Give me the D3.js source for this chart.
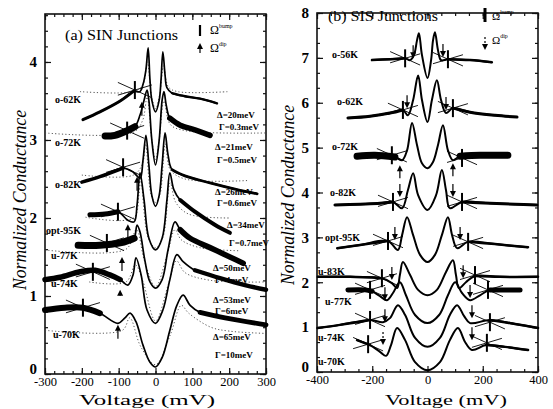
<!DOCTYPE html>
<html>
<head>
<meta charset="utf-8">
<script src="https://cdn.jsdelivr.net/npm/d3@7"></script>
<style>
  body { margin: 0; background: #fff; }
  svg text { font-family: "Liberation Serif", "DejaVu Serif", serif; fill: #000; }
</style>
</head>
<body>
<svg id="chart" width="553" height="409"></svg>
<script>
"use strict";

// ---------- panel (a) SIN junctions: [voltage mV, normalized conductance]
var sinLabels = ["o-62K", "o-72K", "o-82K", "opt-95K", "u-77K", "u-74K", "u-70K"];
var sinO62 = [[-197,3.26],[-151,3.36],[-96,3.50],[-61,3.62],[-42,3.62],[-34,3.71],[-26,3.90],[-20,4.18],[-15,3.77],[-10,3.51],[0,3.36],[10,3.51],[15,3.77],[20,4.13],[26,3.83],[31,3.67],[45,3.60],[80,3.56],[121,3.53],[167,3.47]];
var sinO72 = [[-137,3.05],[-110,3.06],[-77,3.12],[-56,3.17],[-42,3.32],[-31,3.51],[-23,3.64],[-18,3.51],[-10,3.00],[0,2.68],[10,3.00],[18,3.51],[23,3.62],[29,3.45],[39,3.28],[67,3.19],[107,3.13],[148,3.06]];
var sinO82 = [[-200,2.46],[-151,2.53],[-88,2.64],[-61,2.59],[-42,2.51],[-34,2.74],[-26,3.06],[-18,2.68],[-10,2.29],[0,2.15],[10,2.29],[18,2.68],[26,3.09],[34,2.81],[45,2.62],[80,2.54],[148,2.45],[216,2.37],[276,2.31]];
var sinOpt95 = [[-178,2.04],[-137,2.05],[-102,2.08],[-75,1.97],[-58,1.95],[-50,2.17],[-42,2.58],[-31,2.23],[-18,1.74],[0,1.59],[18,1.74],[31,2.23],[39,2.58],[50,2.36],[67,2.23],[107,2.08],[162,1.91],[202,1.81]];
var sinU77 = [[-210,1.65],[-151,1.65],[-96,1.68],[-69,1.72],[-58,1.74],[-50,1.91],[-42,1.82],[-29,1.46],[-15,1.18],[0,1.10],[18,1.21],[34,1.59],[53,1.95],[67,1.85],[94,1.74],[148,1.62],[202,1.50],[238,1.42]];
var sinU74 = [[-300,1.21],[-259,1.24],[-205,1.31],[-164,1.33],[-124,1.27],[-96,1.21],[-75,1.14],[-61,1.27],[-53,1.49],[-39,1.27],[-23,0.82],[0,0.65],[20,0.82],[39,1.21],[58,1.53],[75,1.44],[107,1.33],[175,1.23],[243,1.14],[300,1.08]];
var sinU70 = [[-300,0.82],[-246,0.85],[-197,0.85],[-151,0.78],[-102,0.65],[-83,0.72],[-69,0.78],[-53,0.67],[-34,0.37],[-15,0.15],[0,0.09],[18,0.21],[39,0.56],[58,0.88],[75,1.01],[94,0.88],[121,0.79],[189,0.72],[300,0.63]];
var sinCurves = [sinO62, sinO72, sinO82, sinOpt95, sinU77, sinU74, sinU70];

// dotted d-wave fits
var sinFitO62 = [[-205,3.62],[-60,3.62],[-35,3.70],[-22,4.00],[-12,3.60],[0,3.40],[12,3.60],[22,3.95],[35,3.68],[60,3.62],[200,3.62]];
var sinFitO72 = [[-300,3.09],[-60,3.10],[-35,3.25],[-23,3.55],[-10,3.00],[0,2.75],[10,3.00],[23,3.50],[40,3.20],[80,3.12],[300,3.09]];
var sinFitO82 = [[-200,2.55],[-60,2.55],[-35,2.70],[-27,2.95],[-12,2.30],[0,2.20],[12,2.30],[27,2.95],[40,2.62],[80,2.50],[250,2.48]];
var sinFitOpt95 = [[-190,2.01],[-60,2.00],[-45,2.30],[-40,2.50],[-20,1.75],[0,1.62],[20,1.75],[40,2.45],[55,2.20],[90,2.05],[200,2.00]];
var sinFitU77 = [[-300,1.59],[-80,1.60],[-52,1.85],[-30,1.45],[0,1.12],[30,1.50],[53,1.85],[70,1.72],[120,1.62],[230,1.58]];
var sinFitU74 = [[-180,1.18],[-80,1.18],[-55,1.40],[-35,1.20],[0,0.68],[35,1.15],[57,1.45],[80,1.30],[150,1.20],[300,1.18]];
var sinFitU70 = [[-300,0.56],[-90,0.56],[-70,0.72],[-40,0.35],[0,0.12],[40,0.50],[70,0.88],[90,0.78],[150,0.60],[200,0.55],[300,0.52]];
var sinFits = [sinFitO62, sinFitO72, sinFitO82, sinFitOpt95, sinFitU77, sinFitU74, sinFitU70];

// noisy (thick) stretches of each trace: [from mV, to mV]
var sinBandsL = [[-197,-61],[-137,-56],[-200,-88],[-178,-102],[-210,-58],[-300,-96],[-300,-151]];
var sinBandsR = [[45,167],[39,148],[45,276],[67,202],[67,238],[107,300],[121,300]];

// Omega^bump crosses and Omega^dip arrows
var sinBumpV = [-56, -77, -88, -102, -132, -170, -197];
var sinBumpG = [3.64, 3.12, 2.65, 2.08, 1.68, 1.31, 0.85];
var sinDipV = [-37, -50, -75, -91, -96, -102];
var sinDipG = [3.49, 2.53, 1.92, 1.50, 1.08, 0.63];

var sinDelta = ["Δ=20meV", "Δ=21meV", "Δ=26meV", "Δ=34meV", "Δ=50meV", "Δ=53meV", "Δ=65meV"];
var sinGamma = ["Γ=0.3meV", "Γ=0.5meV", "Γ=0.6meV", "Γ=0.7meV", "Γ=4meV", "Γ=6meV", "Γ=10meV"];

var xTicksA = [-300, -200, -100, 0, 100, 200, 300];
var yTicksA = [0, 1, 2, 3, 4];

// ---------- panel (b) SIS junctions
var sisLabels = ["o-56K", "o-62K", "o-72K", "o-82K", "opt-95K", "u-83K", "u-77K", "u-74K", "u-70K"];
var sisO56 = [[-201,6.95],[-136,6.97],[-81,6.99],[-63,6.95],[-49,7.06],[-38,7.39],[-31,7.55],[-20,7.06],[0,6.55],[13,6.95],[20,7.39],[27,7.57],[38,7.17],[49,6.95],[74,6.97],[154,6.95],[233,6.90]];
var sisO62 = [[-288,5.66],[-208,5.70],[-136,5.77],[-89,5.84],[-71,5.72],[-52,6.06],[-34,6.61],[-20,6.06],[0,5.57],[16,6.06],[34,6.50],[49,6.06],[67,5.77],[92,5.88],[154,5.79],[244,5.72],[324,5.68]];
var sisO72 = [[-255,4.81],[-190,4.83],[-118,4.79],[-92,4.72],[-74,4.94],[-56,5.55],[-38,5.06],[-20,4.65],[0,4.54],[20,4.68],[38,5.06],[56,5.50],[74,4.94],[92,4.72],[118,4.81],[190,4.83],[291,4.83]];
var sisO82 = [[-335,3.72],[-244,3.74],[-172,3.76],[-125,3.79],[-92,3.65],[-71,4.05],[-52,4.43],[-34,3.94],[0,3.61],[31,3.94],[52,4.50],[67,4.05],[81,3.65],[125,3.79],[226,3.76],[317,3.74],[396,3.72]];
var sisOpt95 = [[-327,2.76],[-244,2.83],[-143,2.92],[-107,2.72],[-92,3.05],[-74,3.45],[-52,3.05],[-27,2.61],[0,2.45],[27,2.61],[52,3.05],[74,3.45],[89,3.05],[107,2.76],[147,2.90],[244,2.85],[364,2.78]];
var sisU83 = [[-397,2.12],[-281,2.12],[-165,2.09],[-129,1.98],[-110,1.87],[-100,2.16],[-89,2.45],[-63,2.16],[-34,1.83],[0,1.71],[34,1.83],[67,2.23],[92,2.49],[103,2.16],[114,1.87],[139,2.00],[172,2.14],[262,2.12],[400,2.12]];
var sisU77 = [[-288,1.83],[-226,1.83],[-201,1.80],[-172,1.69],[-147,1.60],[-125,1.76],[-100,2.00],[-78,1.71],[-45,1.27],[0,1.09],[42,1.27],[74,1.71],[100,2.00],[125,1.76],[154,1.60],[190,1.71],[226,1.83],[335,1.83]];
var sisU74 = [[-398,0.98],[-317,1.05],[-208,1.16],[-161,1.11],[-136,1.20],[-107,1.49],[-81,1.27],[-45,0.76],[0,0.56],[45,0.76],[81,1.27],[107,1.49],[132,1.25],[154,1.09],[226,1.16],[317,1.07],[400,0.98]];
var sisU70 = [[-255,0.71],[-208,0.60],[-172,0.45],[-150,0.36],[-132,0.60],[-110,0.98],[-81,0.71],[-45,0.22],[0,0.04],[45,0.22],[81,0.71],[110,0.98],[136,0.67],[161,0.49],[212,0.60],[281,0.56],[364,0.49]];
var sisCurves = [sisO56, sisO62, sisO72, sisO82, sisOpt95, sisU83, sisU77, sisU74, sisU70];

var sisBandsL = [[-201,-81],[-288,-89],[-255,-118],[-335,-125],[-327,-143],[-397,-165],[-288,-201],[-398,-208],[-255,-208]];
var sisBandsR = [[74,233],[92,324],[118,291],[125,396],[147,364],[172,400],[226,335],[226,400],[212,364]];

var sisBumpLV = [-81, -89, -129, -125, -143, -165, -208, -208, -215];
var sisBumpLG = [6.99, 5.84, 4.83, 3.79, 2.92, 2.09, 1.83, 1.16, 0.62];
var sisBumpRV = [74, 92, 125, 125, 147, 172, 219, 226, 215];
var sisBumpRG = [6.97, 5.88, 4.77, 3.79, 2.90, 2.16, 1.83, 1.11, 0.65];
var sisDipLV = [-52, -74, -100, -100, -118, -129, -154, -154, -161];
var sisDipLG = [6.99, 5.88, 4.61, 3.90, 2.94, 2.05, 1.60, 1.11, 0.60];
var sisDipRV = [56, 67, 92, 92, 118, 129, 154, 161, 161];
var sisDipRG = [7.02, 5.84, 4.65, 3.90, 2.94, 2.09, 1.65, 1.20, 0.71];
var sisDipDir = [1, 1, -1, 1, 1, 1, 1, 1, 1];

var xTicksB = [-400, -200, 0, 200, 400];
var yTicksB = [0, 1, 2, 3, 4, 5, 6, 7, 8];

var svg = d3.select("#chart");

function makeLine(x, y) {
  return d3.line()
    .x(function(d) { return x(d[0]); })
    .y(function(d) { return y(d[1]); })
    .curve(d3.curveCatmullRom.alpha(0.5));
}

function drawFrame(g, x, y, xMajor, xMinor, yMajor, yMinor) {
  var x0 = x.range()[0], x1 = x.range()[1];
  var y0 = y.range()[0], y1 = y.range()[1];
  var noDomain = function(s) { s.select(".domain").remove(); };

  g.append("g").attr("transform", "translate(0," + y0 + ")")
    .call(d3.axisBottom(x).tickValues(xMinor).tickSize(-3).tickFormat("")).call(noDomain);
  g.append("g").attr("transform", "translate(0," + y1 + ")")
    .call(d3.axisTop(x).tickValues(xMinor).tickSize(-3).tickFormat("")).call(noDomain);
  g.append("g").attr("transform", "translate(" + x0 + ",0)")
    .call(d3.axisLeft(y).tickValues(yMinor).tickSize(-3).tickFormat("")).call(noDomain);
  g.append("g").attr("transform", "translate(" + x1 + ",0)")
    .call(d3.axisRight(y).tickValues(yMinor).tickSize(-3).tickFormat("")).call(noDomain);

  var bx = g.append("g").attr("transform", "translate(0," + y0 + ")")
    .call(d3.axisBottom(x).tickValues(xMajor).tickSize(-6).tickPadding(3)
      .tickFormat(function(d) { return String(d); }))
    .call(noDomain);
  bx.selectAll("text").attr("font-size", 12.5).attr("font-family", "Liberation Serif");
  g.append("g").attr("transform", "translate(0," + y1 + ")")
    .call(d3.axisTop(x).tickValues(xMajor).tickSize(-6).tickFormat("")).call(noDomain);
  var ly = g.append("g").attr("transform", "translate(" + x0 + ",0)")
    .call(d3.axisLeft(y).tickValues(yMajor).tickSize(-6).tickPadding(8)
      .tickFormat(function(d) { return String(d); }))
    .call(noDomain);
  ly.selectAll("text").attr("font-size", 15).attr("font-weight", "bold").attr("font-family", "Liberation Serif")
    .attr("dy", function(d) { return d === 0 ? "-0.05em" : "0.32em"; });
  g.append("g").attr("transform", "translate(" + x1 + ",0)")
    .call(d3.axisRight(y).tickValues(yMajor).tickSize(-6).tickFormat("")).call(noDomain);

  g.selectAll(".tick line").attr("stroke", "#111").attr("stroke-width", 1.2);

  g.append("rect")
    .attr("x", x0).attr("y", y1)
    .attr("width", x1 - x0).attr("height", y0 - y1)
    .attr("fill", "none").attr("stroke", "#111").attr("stroke-width", 1.6);
}

function drawCross(g, px, py, len) {
  g.append("line").attr("x1", px).attr("x2", px).attr("y1", py - 9).attr("y2", py + 9)
    .attr("stroke", "#000").attr("stroke-width", 2);
  g.append("line").attr("x1", px - len).attr("x2", px + len).attr("y1", py - len * 0.45).attr("y2", py + len * 0.45)
    .attr("stroke", "#000").attr("stroke-width", 0.9);
  g.append("line").attr("x1", px - len).attr("x2", px + len).attr("y1", py + len * 0.3).attr("y2", py - len * 0.3)
    .attr("stroke", "#000").attr("stroke-width", 0.9);
}

function drawArrow(g, px, py, dir, len, dashed) {
  // dir 1: points down to (px,py), dir -1: points up to (px,py)
  var tail = py - dir * len;
  g.append("line").attr("x1", px).attr("x2", px).attr("y1", tail).attr("y2", py - dir * 4)
    .attr("stroke", "#000").attr("stroke-width", 1.2)
    .attr("stroke-dasharray", dashed ? "2,2" : null);
  g.append("path")
    .attr("d", "M" + px + "," + py + "L" + (px - 3) + "," + (py - dir * 6) + "L" + (px + 3) + "," + (py - dir * 6) + "Z")
    .attr("fill", "#000");
}

function drawBands(g, curve, band, x, y, width) {
  var pts = curve.filter(function(d) { return d[0] >= band[0] && d[0] <= band[1]; });
  g.append("path").datum(pts)
    .attr("d", makeLine(x, y))
    .attr("fill", "none").attr("stroke", "#000")
    .attr("stroke-width", width).attr("stroke-linecap", "round");
}

function omegaLabel(g, px, py, size, sup) {
  var t = g.append("text").attr("x", px).attr("y", py).attr("font-size", size).text("Ω");
  t.append("tspan").attr("font-size", 6).attr("dy", -6).text(sup);
}

// ================= panel (a)
(function() {
  var x = d3.scaleLinear().domain([-300, 300]).range([45, 266]);
  var y = d3.scaleLinear().domain([0, 4.615]).range([374, 14]);
  var g = svg.append("g");
  var path = makeLine(x, y);

  drawFrame(g, x, y, xTicksA, d3.range(-300, 301, 25), yTicksA, d3.range(0, 4.61, 0.2));

  g.selectAll(".fit").data(sinFits).enter().append("path")
    .attr("class", "fit")
    .attr("d", path)
    .attr("fill", "none").attr("stroke", "#444")
    .attr("stroke-width", 0.9).attr("stroke-dasharray", "1.2,2.2");

  g.selectAll(".trace").data(sinCurves).enter().append("path")
    .attr("class", "trace")
    .attr("d", path)
    .attr("fill", "none").attr("stroke", "#000")
    .attr("stroke-width", 1.7).attr("stroke-linejoin", "round");

  var bandW = [3, 7, 3.5, 5, 7, 5.5, 6];
  sinCurves.forEach(function(c, i) {
    drawBands(g, c, sinBandsL[i], x, y, bandW[i]);
    drawBands(g, c, sinBandsR[i], x, y, bandW[i] * 0.8);
  });

  sinBumpV.forEach(function(v, i) {
    drawCross(g, x(v), y(sinBumpG[i]), 17);
  });
  sinDipV.forEach(function(v, i) {
    drawArrow(g, x(v), y(sinDipG[i]), -1, i === 4 ? 6 : 14, false);
  });

  var labY = [103, 146, 188, 234, 259, 287, 338];
  var labX = [55, 55, 55, 46, 51, 51, 53];
  sinLabels.forEach(function(t, i) {
    g.append("text").attr("x", labX[i]).attr("y", labY[i])
      .attr("font-size", 10).attr("font-weight", "bold").text(t);
  });

  var dY = [118, 150, 195, 228, 271, 303, 340];
  var gY = [130, 163, 206, 246, 283, 314, 358];
  var dX = [217, 215, 215, 227, 213, 213, 213];
  sinDelta.forEach(function(t, i) {
    g.append("text").attr("x", dX[i]).attr("y", dY[i]).attr("font-size", 9).attr("font-weight", "bold").text(t);
    g.append("text").attr("x", dX[i] + 2).attr("y", gY[i]).attr("font-size", 9).attr("font-weight", "bold").text(sinGamma[i]);
  });

  g.append("text").attr("x", 65).attr("y", 40).attr("font-size", 14)
    .attr("textLength", 113).attr("lengthAdjust", "spacingAndGlyphs")
    .text("(a)  SIN Junctions");

  // legend
  g.append("line").attr("x1", 200).attr("x2", 200).attr("y1", 25).attr("y2", 36)
    .attr("stroke", "#000").attr("stroke-width", 2.2);
  omegaLabel(g, 210, 34, 12, "bump");
  drawArrow(g, 200, 43, -1, 10, false);
  omegaLabel(g, 210, 52, 12, "dip");

  g.append("text").attr("transform", "translate(26,200) rotate(-90)")
    .attr("text-anchor", "middle").attr("font-size", 18).attr("font-style", "italic")
    .attr("textLength", 180).attr("lengthAdjust", "spacingAndGlyphs")
    .text("Normalized Conductance");
  g.append("text").attr("x", 147).attr("y", 405).attr("text-anchor", "middle")
    .attr("font-size", 15).attr("textLength", 136).attr("lengthAdjust", "spacingAndGlyphs")
    .text("Voltage (mV)");
})();

// ================= panel (b)
(function() {
  var x = d3.scaleLinear().domain([-400, 400]).range([317, 538]);
  var y = d3.scaleLinear().domain([0, 8]).range([372, 13]);
  var g = svg.append("g");
  var path = makeLine(x, y);

  drawFrame(g, x, y, xTicksB, d3.range(-400, 401, 50), yTicksB, d3.range(0, 8.01, 1 / 3));

  g.selectAll(".trace").data(sisCurves).enter().append("path")
    .attr("class", "trace")
    .attr("d", path)
    .attr("fill", "none").attr("stroke", "#000")
    .attr("stroke-width", 2).attr("stroke-linejoin", "round");

  var bandW = [2.5, 3, 7, 3, 2.5, 2.5, 5, 2.5, 2.5];
  sisCurves.forEach(function(c, i) {
    drawBands(g, c, sisBandsL[i], x, y, bandW[i]);
    drawBands(g, c, sisBandsR[i], x, y, bandW[i]);
  });

  sisBumpLV.forEach(function(v, i) {
    drawCross(g, x(v), y(sisBumpLG[i]), 15);
    drawCross(g, x(sisBumpRV[i]), y(sisBumpRG[i]), 15);
  });
  sisDipLV.forEach(function(v, i) {
    drawArrow(g, x(v), y(sisDipLG[i]), sisDipDir[i], 13, i === 8);
    drawArrow(g, x(sisDipRV[i]), y(sisDipRG[i]), sisDipDir[i], 13, false);
  });

  var labY = [58, 105, 150, 196, 241, 275, 305, 341, 365];
  var labX = [332, 337, 332, 330, 325, 318, 325, 318, 318];
  sisLabels.forEach(function(t, i) {
    g.append("text").attr("x", labX[i]).attr("y", labY[i])
      .attr("font-size", 10).attr("font-weight", "bold").text(t);
  });

  g.append("text").attr("x", 328).attr("y", 21).attr("font-size", 14)
    .attr("textLength", 110).attr("lengthAdjust", "spacingAndGlyphs")
    .text("(b)  SIS Junctions");

  g.append("line").attr("x1", 485).attr("x2", 485).attr("y1", 8).attr("y2", 22)
    .attr("stroke", "#000").attr("stroke-width", 3);
  omegaLabel(g, 492, 20, 11, "bump");
  drawArrow(g, 485, 50, 1, 13, true);
  omegaLabel(g, 492, 44, 11, "dip");

  g.append("text").attr("transform", "translate(294,195) rotate(-90)")
    .attr("text-anchor", "middle").attr("font-size", 18).attr("font-style", "italic")
    .attr("textLength", 180).attr("lengthAdjust", "spacingAndGlyphs")
    .text("Normalized Conductance");
  g.append("text").attr("x", 446).attr("y", 405).attr("text-anchor", "middle")
    .attr("font-size", 15).attr("textLength", 122).attr("lengthAdjust", "spacingAndGlyphs")
    .text("Voltage (mV)");
})();
</script>
</body>
</html>
